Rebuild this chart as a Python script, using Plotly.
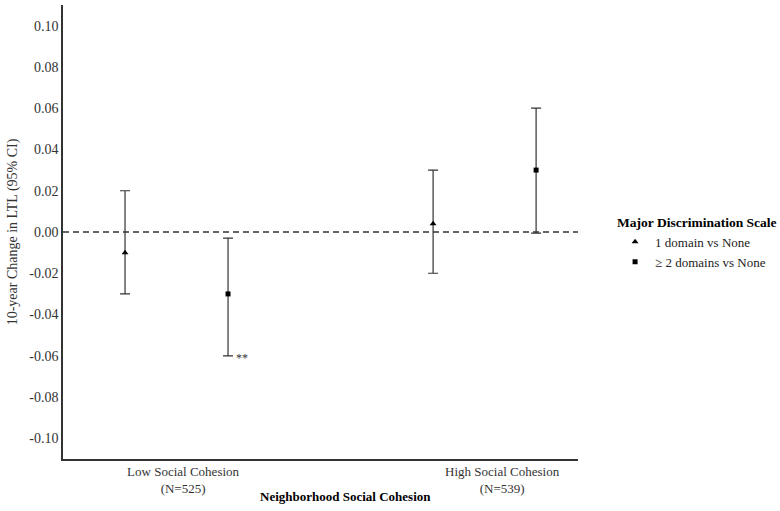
import plotly.graph_objects as go

# data
series = ["1 domain vs None", "\u2265 2 domains vs None"]
x_pos = {  # dodge positions along a numeric axis
    "1 domain vs None": [0.665, 1.981],
    "\u2265 2 domains vs None": [1.105, 2.421],
}
est = {
    "1 domain vs None": [-0.010, 0.004],
    "\u2265 2 domains vs None": [-0.030, 0.030],
}
lo = {
    "1 domain vs None": [-0.030, -0.020],
    "\u2265 2 domains vs None": [-0.060, -0.0005],
}
hi = {
    "1 domain vs None": [0.020, 0.030],
    "\u2265 2 domains vs None": [-0.003, 0.060],
}
symbols = {"1 domain vs None": "triangle-up", "\u2265 2 domains vs None": "square"}
group_ticks = [0.913, 2.276]
group_labels = ["Low Social Cohesion<br>(N=525)", "High Social Cohesion<br>(N=539)"]
y_ticks = [-0.10, -0.08, -0.06, -0.04, -0.02, 0.00, 0.02, 0.04, 0.06, 0.08, 0.10]
y_labels = [f"{v:.2f}" for v in y_ticks]  # plain hyphen minus, as in the original

FONT = "Liberation Serif, Times New Roman, serif"

fig = go.Figure()
for s in series:
    fig.add_trace(go.Scatter(
        x=x_pos[s], y=est[s], mode="markers", name=s,
        marker=dict(symbol=symbols[s], size=6 if s.startswith("1") else 5, color="black"),
        error_y=dict(
            type="data", symmetric=False,
            array=[h - e for h, e in zip(hi[s], est[s])],
            arrayminus=[e - l for e, l in zip(est[s], lo[s])],
            color="#333333", thickness=1.2, width=5,
        ),
    ))

fig.add_hline(y=0, line=dict(color="#333333", width=1.3, dash="6px,4px"))

# significance marker next to the low-cohesion >=2 domains lower bound
fig.add_annotation(x=x_pos["\u2265 2 domains vs None"][0], y=lo["\u2265 2 domains vs None"][0],
                   text="**", showarrow=False, xanchor="left", xshift=6, yshift=-2,
                   font=dict(family=FONT, size=12, color="#333333"))

fig.add_annotation(x=(345 - 63) / 515, y=0, xref="paper", yref="paper",
                   text="<b>Neighborhood Social Cohesion</b>", showarrow=False,
                   yanchor="top", yshift=-28, font=dict(family=FONT, size=13, color="black"))

fig.update_layout(
    width=780, height=511,
    margin=dict(l=63, r=202, t=5, b=52, autoexpand=False),
    plot_bgcolor="white", paper_bgcolor="white",
    font=dict(family=FONT, size=13, color="#333333"),
    showlegend=True,
    legend=dict(
        title=dict(text="<b>Major Discrimination Scale</b>", font=dict(size=13.5, color="black")),
        x=1.072, y=0.475, xanchor="left", yanchor="middle",
        font=dict(size=13, color="#222222"), itemwidth=30, tracegroupgap=0,
    ),
    xaxis=dict(
        range=[0.4, 2.6], tickvals=group_ticks, ticktext=group_labels,
        showgrid=False, zeroline=False, showline=True, linecolor="#333333", linewidth=1.5,
        ticks="", tickfont=dict(size=13, color="#333333"), automargin=False,
    ),
    yaxis=dict(
        range=[-0.11, 0.11], tickvals=y_ticks, ticktext=y_labels,
        showgrid=False, zeroline=False, showline=True, linecolor="#333333", linewidth=1.5,
        ticks="", tickfont=dict(size=14, color="#333333"), automargin=False,
        title=dict(text="10-year Change in LTL (95% CI)", font=dict(size=14, color="#333333"), standoff=8),
    ),
)

# drop the page's default body margin so the figure sits at the window's corner
fig.write_html("out.html", config={"displayModeBar": False},
               post_script="document.body.style.margin='0';")
